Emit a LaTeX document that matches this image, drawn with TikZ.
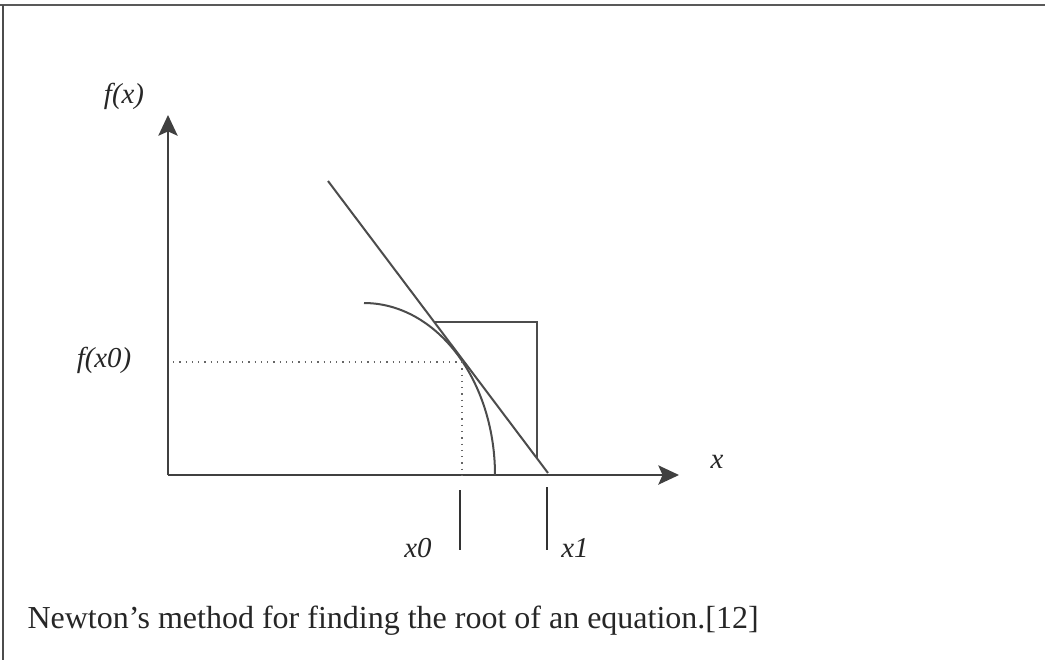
\documentclass[tikz,border=0pt]{standalone}
\usepackage{fontspec}
\setmainfont{Liberation Serif}
\usetikzlibrary{arrows.meta}
\begin{document}
\begin{tikzpicture}[x=0.014cm, y=-0.014cm,
  axis/.style={line width=0.8pt, black!75, -{Stealth[length=2.9mm,width=2.7mm,inset=0.6mm]}},
  curve/.style={line width=0.8pt, black!70},
  guide/.style={line width=0.5pt, black!60, dotted},
  tick/.style={line width=0.7pt, black!80},
  lbl/.style={font=\fontsize{11.5}{13}\selectfont\itshape, inner sep=1pt, text=black!85}]
  \useasboundingbox (0,0) rectangle (1045,660);
  % page frame
  \draw[line width=1.1pt, black!65] (0,5) -- (1045,5);
  \draw[line width=1.1pt, black!70] (3,5) -- (3,660);
  % axes
  \coordinate (O) at (168,475);
  \coordinate (ytip) at (168,115);
  \coordinate (xtip) at (679,475);
  \draw[axis] (O) -- (ytip);
  \draw[axis] (O) -- (xtip);
  \node[lbl] (fx) at (124,96) {f(x)};
  \node[lbl] (xl) at (717,462) {x};
  % function and tangent
  \draw[curve] plot[domain=90:0, smooth, samples=40] ({364+131*cos(\x)},{475-172*sin(\x)});
  \coordinate (P) at (462,362);
  \coordinate (T1) at (328,181);
  \coordinate (T2) at (548,473);
  \draw[curve] (T1) -- (T2);
  % slope triangle
  \coordinate (A) at (435,322);
  \coordinate (B) at (537,322);
  \coordinate (C) at (537,458);
  \draw[curve] (A) -- (B) -- (C);
  % guides to the point
  \draw[guide] (173,362) -- (P);
  \draw[guide] (P) -- (462,475);
  \node[lbl] (fx0) at (104,360) {f(x0)};
  % ticks
  \draw[tick] (460,490) -- (460,550);
  \draw[tick] (547,487) -- (547,550);
  \node[lbl] (x0) at (418,548) {x0};
  \node[lbl] (x1) at (575,548) {x1};
  % caption
  \node[anchor=base west, inner sep=0pt, font=\fontsize{12.75}{15}\selectfont, text=black!85] (cap) at (27,628)
    {Newton’s method for finding the root of an equation.[12]};
\end{tikzpicture}
\end{document}
